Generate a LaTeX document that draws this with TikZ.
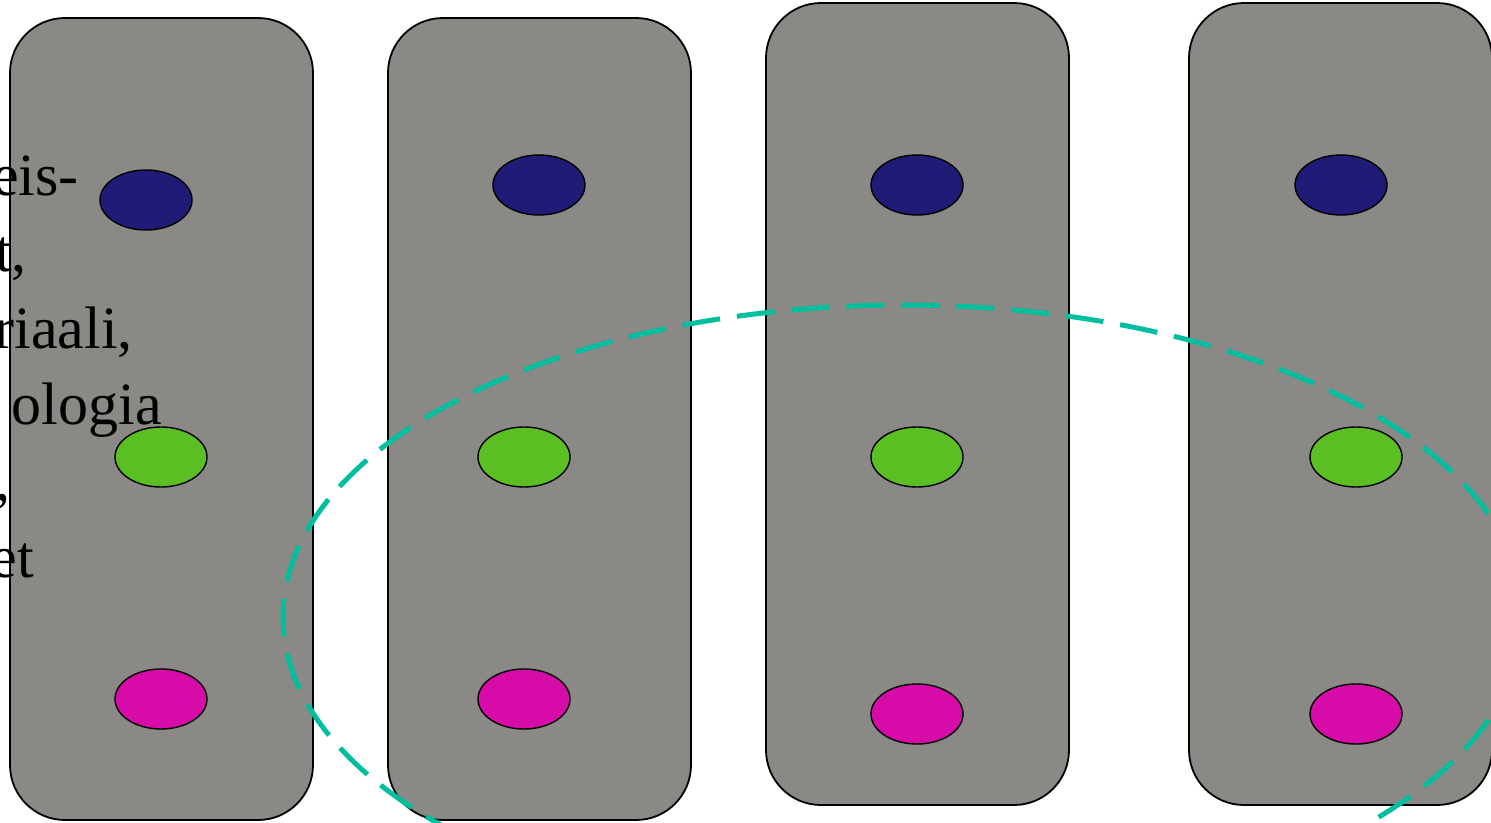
\documentclass[tikz,border=0pt]{standalone}
\usepackage{fontspec}
\setmainfont{Liberation Serif}
\usetikzlibrary{shapes.geometric}
\definecolor{boxgray}{HTML}{8B8985}
\definecolor{dotnavy}{HTML}{1F1B77}
\definecolor{dotgreen}{HTML}{5BBF24}
\definecolor{dotpink}{HTML}{D70BA8}
\definecolor{ringteal}{HTML}{00BF9F}
\tikzset{
  column/.style={draw=black,line width=1.8pt,fill=boxgray,rounded corners=55pt},
  dot/.style={ellipse,draw=black,line width=1.4pt,minimum width=92pt,minimum height=60pt,inner sep=0pt},
  word/.style={anchor=base east,inner sep=0pt,font=\fontsize{60}{75}\selectfont},
  ring/.style={draw=ringteal,line width=5pt,dash pattern=on 38pt off 17pt}
}
\begin{document}
\begin{tikzpicture}[x=1pt,y=-1pt]
\useasboundingbox (0,0) rectangle (1491,822);
% columns
\draw [column] (10,18) rectangle (313,820);
\draw [column] (388,18) rectangle (691,820);
\draw [column] (766,3) rectangle (1069,805);
\draw [column] (1189,3) rectangle (1492,805);
% text cut off at the left edge
\node [word] (w1) at (79,195) {eis-};
\node [word] (w2) at (27,271) {t,};
\node [word] (w3) at (133,348) {riaali,};
\node [word] (w4) at (162,424) {ologia};
\node [word] (w5) at (11,500) {,};
\node [word] (w6) at (34,577) {et};
% first column
\node [dot,fill=dotnavy] (n1) at (146,200) {};
\node [dot,fill=dotgreen] (g1) at (161,457) {};
\node [dot,fill=dotpink] (p1) at (161,699) {};
% second column
\node [dot,fill=dotnavy] (n2) at (539,185) {};
\node [dot,fill=dotgreen] (g2) at (524,457) {};
\node [dot,fill=dotpink] (p2) at (524,699) {};
% third column
\node [dot,fill=dotnavy] (n3) at (917,185) {};
\node [dot,fill=dotgreen] (g3) at (917,457) {};
\node [dot,fill=dotpink] (p3) at (917,714) {};
% fourth column
\node [dot,fill=dotnavy] (n4) at (1341,185) {};
\node [dot,fill=dotgreen] (g4) at (1356,457) {};
\node [dot,fill=dotpink] (p4) at (1356,714) {};
% dashed ring
\draw [ring] (903,617) ellipse [x radius=620,y radius=312];
\end{tikzpicture}
\end{document}
